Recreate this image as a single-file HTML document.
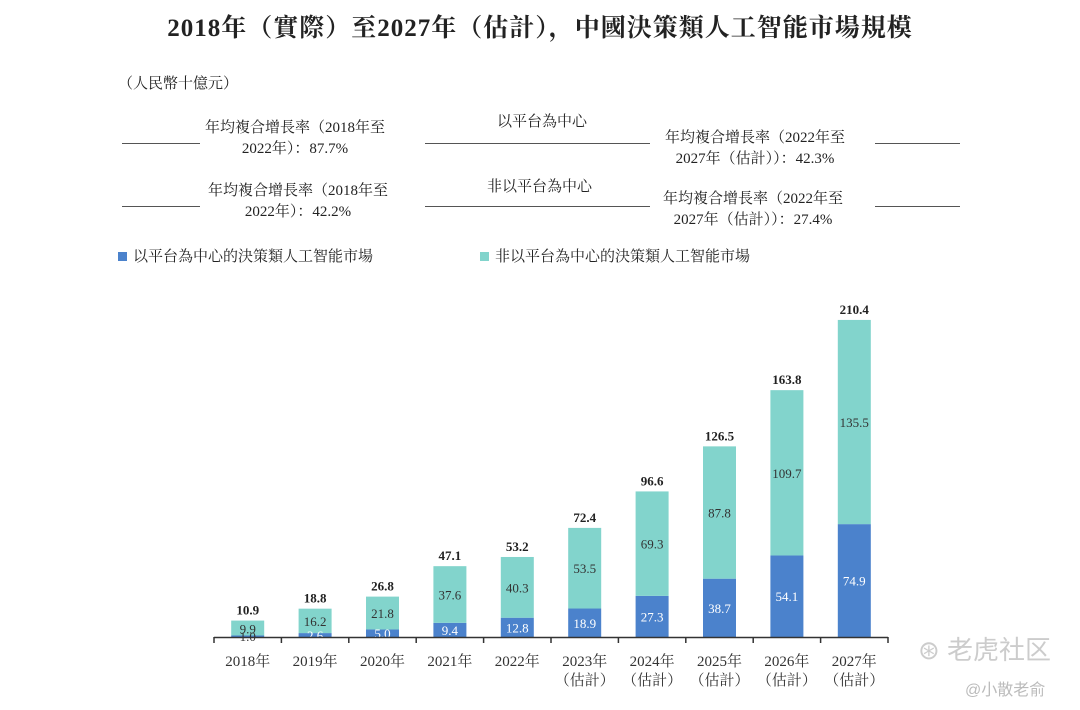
<!DOCTYPE html>
<html><head><meta charset="utf-8">
<style>
body{margin:0;background:#fff;width:1080px;height:710px;overflow:hidden;font-family:"Liberation Serif","Noto Serif CJK SC","Noto Sans CJK TC",serif;color:#222}
.t{position:absolute;white-space:nowrap}
.hl{position:absolute;height:1px;background:#555}
</style></head>
<body>
<div class="t" style="left:0;width:1080px;text-align:center;top:8px;font-size:25px;font-weight:bold;letter-spacing:1px">2018年（實際）至2027年（估計），中國決策類人工智能市場規模</div>
<div class="t" style="left:118px;top:72px;font-size:15px">（人民幣十億元）</div>

<div class="hl" style="left:122px;top:143px;width:78px"></div>
<div class="t" style="left:205px;top:118px;font-size:15px;text-align:center;line-height:21px">年均複合增長率（2018年至<br>2022年）：87.7%</div>
<div class="hl" style="left:425px;top:143px;width:225px"></div>
<div class="t" style="left:497px;top:110px;font-size:15px">以平台為中心</div>
<div class="t" style="left:665px;top:128px;font-size:15px;text-align:center;line-height:21px">年均複合增長率（2022年至<br>2027年（估計））：42.3%</div>
<div class="hl" style="left:875px;top:143px;width:85px"></div>

<div class="hl" style="left:122px;top:206px;width:78px"></div>
<div class="t" style="left:208px;top:181px;font-size:15px;text-align:center;line-height:21px">年均複合增長率（2018年至<br>2022年）：42.2%</div>
<div class="hl" style="left:425px;top:206px;width:225px"></div>
<div class="t" style="left:487px;top:175px;font-size:15px">非以平台為中心</div>
<div class="t" style="left:663px;top:189px;font-size:15px;text-align:center;line-height:21px">年均複合增長率（2022年至<br>2027年（估計））：27.4%</div>
<div class="hl" style="left:875px;top:206px;width:85px"></div>

<div class="t" style="left:118px;top:245px;font-size:15px"><span style="display:inline-block;width:9px;height:9px;background:#4b82cc;margin-right:6px"></span>以平台為中心的決策類人工智能市場</div>
<div class="t" style="left:480px;top:245px;font-size:15px"><span style="display:inline-block;width:9px;height:9px;background:#82d4cc;margin-right:6px"></span>非以平台為中心的決策類人工智能市場</div>

<svg id="chart" width="1080" height="710" style="position:absolute;left:0;top:0" font-family="Liberation Serif, Noto Serif CJK SC, serif"></svg>
<div class="t" style="left:918px;top:630px;font-size:26px;color:#ccc;font-family:'Liberation Sans','Noto Sans CJK SC',sans-serif">⊛ 老虎社区</div>
<div class="t" style="left:965px;top:676px;font-size:16px;color:#bbb;font-family:'Liberation Sans','Noto Sans CJK SC',sans-serif">@小散老俞</div>
<script>
const categories=["2018年","2019年","2020年","2021年","2022年","2023年","2024年","2025年","2026年","2027年"];
const estimated=[false,false,false,false,false,true,true,true,true,true];
const platform=[1.0,2.6,5.0,9.4,12.8,18.9,27.3,38.7,54.1,74.9];
const nonPlatform=[9.9,16.2,21.8,37.6,40.3,53.5,69.3,87.8,109.7,135.5];
const totals=[10.9,18.8,26.8,47.1,53.2,72.4,96.6,126.5,163.8,210.4];
const svg=document.getElementById('chart');
const NS='http://www.w3.org/2000/svg';
const x0=214,x1=888,base=637,scale=1.507,bw=33;
const step=(x1-x0)/categories.length;
const xc=i=>x0+step*(i+0.5);
const y=v=>base-v*scale;
function mk(tag,attrs,text){const e=document.createElementNS(NS,tag);for(const k in attrs)e.setAttribute(k,attrs[k]);if(text!=null)e.textContent=text;svg.appendChild(e);return e;}
categories.forEach((c,i)=>{
  const cx=xc(i);
  let r=mk('rect',{x:cx-bw/2,y:y(platform[i]),width:bw,height:platform[i]*scale,fill:'#4b82cc'});
  
  
  r=mk('rect',{x:cx-bw/2,y:y(platform[i]+nonPlatform[i]),width:bw,height:nonPlatform[i]*scale,fill:'#82d4cc'});
  
  
  let t=mk('text',{x:cx,y:y(totals[i])-6,'text-anchor':'middle','font-size':13,'font-weight':'bold',fill:'#222'},totals[i].toFixed(1));
  
  
  const pm=y(platform[i]+nonPlatform[i]/2);
  t=mk('text',{x:cx,y:i===0?y(platform[i])-2:pm+5,'text-anchor':'middle','font-size':13,fill:'#333'},nonPlatform[i].toFixed(1));
  
  
  t=mk('text',{x:cx,y:y(platform[i]/2)+5,'text-anchor':'middle','font-size':13,fill:i===0?'#333':'#fff'},platform[i].toFixed(1));
  
  
  t=mk('text',{x:cx,y:666,'text-anchor':'middle','font-size':15,fill:'#333'},c);
  
  
  if(estimated[i]){t=mk('text',{x:cx,y:685,'text-anchor':'middle','font-size':15,fill:'#333'},'（估計）');
  
  }
});
let ax=mk('line',{x1:x0,x2:x1,y1:base+0.5,y2:base+0.5,stroke:'#333','stroke-width':1.5});


for(let i=0;i<=categories.length;i++){const tx=x0+step*i;const tk=mk('line',{x1:tx,x2:tx,y1:base,y2:base+6,stroke:'#333','stroke-width':1.5});

}
</script>
</body></html>
